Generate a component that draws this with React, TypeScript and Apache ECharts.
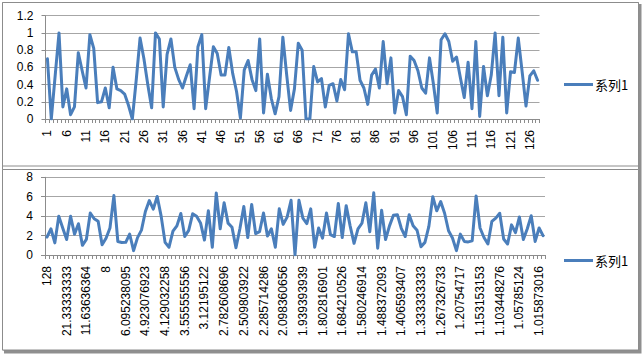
import React, { useEffect, useRef } from "react";
import * as echarts from "echarts";

const seriesName = "系列1";

const topValues = [
  0.70, 0.00, 0.50, 1.00, 0.14, 0.35, 0.05, 0.14, 0.77, 0.56,
  0.36, 0.98, 0.82, 0.19, 0.20, 0.36, 0.13, 0.60, 0.35, 0.33,
  0.29, 0.16, 0.00, 0.45, 0.94, 0.70, 0.40, 0.13, 1.00, 0.93,
  0.14, 0.75, 0.93, 0.60, 0.46, 0.36, 0.50, 0.63, 0.12, 0.84,
  0.98, 0.12, 0.48, 0.84, 0.76, 0.51, 0.51, 0.83, 0.53, 0.32,
  0.01, 0.57, 0.68, 0.46, 0.33, 0.93, 0.07, 0.52, 0.24, 0.06,
  0.26, 0.95, 0.51, 0.10, 0.35, 0.88, 0.80, 0.00, 0.00, 0.61,
  0.43, 0.47, 0.14, 0.39, 0.41, 0.21, 0.46, 0.34, 0.99, 0.78,
  0.78, 0.45, 0.36, 0.17, 0.51, 0.58, 0.36, 0.90, 0.41, 0.71,
  0.07, 0.33, 0.26, 0.05, 0.73, 0.68, 0.56, 0.36, 0.30, 0.71,
  0.41, 0.07, 0.92, 0.99, 0.90, 0.67, 0.72, 0.48, 0.25, 0.66,
  0.12, 0.90, 0.03, 0.61, 0.27, 0.51, 1.00, 0.27, 0.95, 0.07,
  0.55, 0.54, 0.94, 0.55, 0.15, 0.50, 0.56, 0.45,
];

const bottomValues = [
  1.85, 2.7, 1.25, 4.0, 2.78, 1.6, 3.98, 2.15, 3.22, 1.0,
  1.6, 4.32, 3.73, 3.47, 1.05, 1.73, 2.78, 6.12, 1.39, 1.29,
  1.3, 2.16, 0.45, 1.79, 2.56, 4.48, 5.6, 4.72, 6.03, 4.0,
  1.3, 0.8, 2.45, 3.0, 4.27, 1.91, 2.54, 4.24, 3.98, 3.3,
  1.54, 4.55, 0.8, 6.38, 2.7, 5.37, 3.28, 2.86, 0.75, 2.7,
  5.0, 1.8, 5.2, 2.2, 2.4, 4.32, 1.95, 2.7, 0.8, 4.75,
  3.15, 3.9, 5.63, 0.02, 5.63, 3.8, 3.23, 4.75, 0.8, 2.78,
  1.74, 4.32, 2.1, 1.9, 5.3, 1.8, 5.08, 3.0, 1.2, 2.68,
  3.27, 5.37, 2.4, 6.4, 0.7, 4.6, 1.6, 3.0, 4.1, 4.15,
  2.75, 1.9, 4.15, 3.0, 2.55, 0.85, 1.3, 2.95, 6.0, 4.55,
  5.5, 4.3, 2.5, 1.75, 0.45, 2.15, 1.4, 1.35, 1.45, 6.07,
  2.78, 1.8, 1.13, 3.46, 3.8, 4.3, 1.65, 1.13, 3.1, 2.3,
  3.92, 1.6, 2.7, 4.05, 1.4, 2.78, 2.0,
];

const topCategories = topValues.map((_, i) => String(i + 1));

const bottomTickLabels = [
  "128", "21.33333333", "11.63636364", "8", "6.095238095", "4.923076923",
  "4.129032258", "3.555555556", "3.12195122", "2.782608696", "2.509803922",
  "2.285714286", "2.098360656", "1.939393939", "1.802816901", "1.684210526",
  "1.580246914", "1.488372093", "1.406593407", "1.333333333", "1.267326733",
  "1.20754717", "1.153153153", "1.103448276", "1.05785124", "1.015873016",
];
const bottomCategories = bottomValues.map((_, i) => String(i));

const LINE_COLOR = "#4A7EBB";
const GRID_COLOR = "#a6a6a6";
const AXIS_COLOR = "#8c8c8c";
const FONT = "'Liberation Sans', Arial, sans-serif";

export default function App() {
  const ref = useRef<HTMLDivElement>(null);
  useEffect(() => {
    const chart = echarts.init(ref.current!, null, { renderer: "svg" });
    const labelStyle = { color: "#000", fontFamily: FONT, fontSize: 12 };
    const xAxisCommon = {
      type: "category",
      boundaryGap: true,
      axisLine: { show: true, lineStyle: { color: AXIS_COLOR, width: 1 } },
      axisTick: { show: true, interval: 0, length: 4, lineStyle: { color: AXIS_COLOR } },
      splitLine: { show: false },
    };
    const yAxisCommon = {
      type: "value",
      min: 0,
      axisLine: { show: true, lineStyle: { color: AXIS_COLOR, width: 1 } },
      axisTick: { show: true, length: 4, lineStyle: { color: AXIS_COLOR } },
      splitLine: { show: true, lineStyle: { color: GRID_COLOR, width: 1 } },
    };
    const legendCommon = {
      left: 559, icon: "rect", itemWidth: 29, itemHeight: 3,
      data: [seriesName], selectedMode: false,
      textStyle: { color: "#000", fontSize: 13, fontFamily: "'Noto Sans CJK SC', sans-serif", padding: [0, 0, 0, -3] },
    };
    chart.setOption({
      animation: false,
      backgroundColor: "#ffffff",
      graphic: [
        { type: "rect", z: -20, shape: { x: 4, y: 4, width: 637.5, height: 349.5 }, style: { fill: "#8f8f8f" } },
        { type: "rect", z: -19, shape: { x: 2.5, y: 2.5, width: 636, height: 347.5 }, style: { fill: "#ffffff", stroke: AXIS_COLOR, lineWidth: 1 } },
        { type: "rect", z: -18, shape: { x: 2.5, y: 2.5, width: 636, height: 163.5 }, style: { fill: "#ffffff", stroke: AXIS_COLOR, lineWidth: 1 } },
        { type: "rect", z: -18, shape: { x: 2.5, y: 169.5, width: 636, height: 180.5 }, style: { fill: "#ffffff", stroke: AXIS_COLOR, lineWidth: 1 } },
      ],
      grid: [
        { left: 45.5, top: 15.7, width: 494, height: 103.3 },
        { left: 45, top: 177.3, width: 500, height: 77.7 },
      ],
      xAxis: [
        {
          ...xAxisCommon,
          gridIndex: 0,
          data: topCategories,
          axisLabel: { ...labelStyle, interval: 4, rotate: 90, margin: 11 },
        },
        {
          ...xAxisCommon,
          gridIndex: 1,
          data: bottomCategories,
          axisLabel: {
            ...labelStyle,
            interval: 4,
            rotate: 90,
            margin: 11,
            formatter: (_v: string, idx: number) => bottomTickLabels[idx / 5] ?? "",
          },
        },
      ],
      yAxis: [
        { ...yAxisCommon, gridIndex: 0, max: 1.2, interval: 0.2, axisLabel: { ...labelStyle, margin: 12 } },
        { ...yAxisCommon, gridIndex: 1, max: 8, interval: 2, axisLabel: { ...labelStyle, margin: 12 } },
      ],
      legend: [
        { ...legendCommon, top: 73 },
        { ...legendCommon, top: 249 },
      ],
      series: [
        {
          name: seriesName, type: "line", xAxisIndex: 0, yAxisIndex: 0, data: topValues,
          showSymbol: false, symbol: "none", color: LINE_COLOR,
          lineStyle: { color: LINE_COLOR, width: 3, join: "round", cap: "round" },
        },
        {
          name: seriesName, type: "line", xAxisIndex: 1, yAxisIndex: 1, data: bottomValues,
          showSymbol: false, symbol: "none", color: LINE_COLOR,
          lineStyle: { color: LINE_COLOR, width: 3, join: "round", cap: "round" },
        },
      ],
    });
    return () => chart.dispose();
  }, []);
  return <div ref={ref} style={{ position: "fixed", left: 0, top: 0, width: 644, height: 355 }} />;
}
